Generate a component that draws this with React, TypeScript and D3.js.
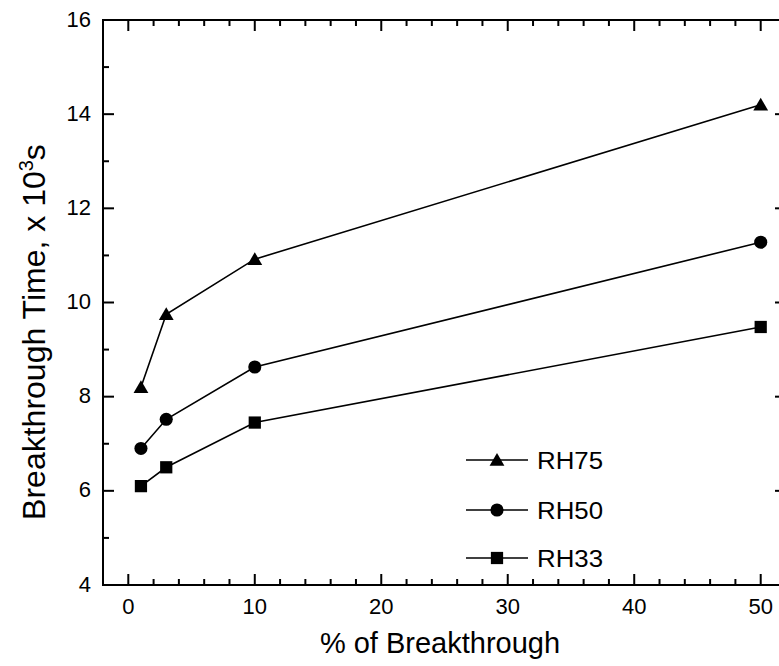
import React, { useEffect, useRef } from "react";
import * as d3 from "d3";

const xValues = [1, 3, 10, 50];
const rh75 = [8.2, 9.75, 10.92, 14.2];
const rh50 = [6.9, 7.52, 8.63, 11.28];
const rh33 = [6.1, 6.5, 7.45, 9.48];
const seriesNames = ["RH75", "RH50", "RH33"];
const seriesShapes = ["triangle", "circle", "square"];
const xTicks = [0, 10, 20, 30, 40, 50];
const yTicks = [4, 6, 8, 10, 12, 14, 16];

const W = 779;
const H = 666;
const FONT = "'Liberation Sans', Arial, sans-serif";

export default function App() {
  const ref = useRef<SVGSVGElement>(null);
  useEffect(() => {
    const svg = d3.select(ref.current);
    svg.selectAll("*").remove();
    const x = d3.scaleLinear().domain([-2, 52]).range([103, 786]);
    const y = d3.scaleLinear().domain([4, 16]).range([585, 20]);
    const g = svg.append("g");

    const [x0, x1] = x.range();
    const [y0, y1] = y.range();
    g.append("rect")
      .attr("x", x0).attr("y", y1)
      .attr("width", x1 - x0).attr("height", y0 - y1)
      .attr("fill", "none").attr("stroke", "#000").attr("stroke-width", 2);

    const major = 11, minor = 6;
    d3.range(0, 52, 2).forEach((v) => {
      const len = v % 10 === 0 ? major : minor;
      g.append("line").attr("x1", x(v)).attr("x2", x(v)).attr("y1", y0).attr("y2", y0 - len)
        .attr("stroke", "#000").attr("stroke-width", 2);
      g.append("line").attr("x1", x(v)).attr("x2", x(v)).attr("y1", y1).attr("y2", y1 + len)
        .attr("stroke", "#000").attr("stroke-width", 2);
    });
    d3.range(4, 17, 1).forEach((v) => {
      const len = v % 2 === 0 ? major : minor;
      g.append("line").attr("x1", x0).attr("x2", x0 + len).attr("y1", y(v)).attr("y2", y(v))
        .attr("stroke", "#000").attr("stroke-width", 2);
      g.append("line").attr("x1", x1).attr("x2", x1 - len).attr("y1", y(v)).attr("y2", y(v))
        .attr("stroke", "#000").attr("stroke-width", 2);
    });

    xTicks.forEach((v) => {
      g.append("text").attr("x", x(v)).attr("y", 614).attr("text-anchor", "middle")
        .attr("font-family", FONT).attr("font-size", 22).text(String(v));
    });
    yTicks.forEach((v) => {
      g.append("text").attr("x", 91).attr("y", y(v) + 6.5).attr("text-anchor", "end")
        .attr("font-family", FONT).attr("font-size", 22).text(String(v));
    });

    g.append("text").attr("x", 440).attr("y", 653).attr("text-anchor", "middle")
      .attr("font-family", FONT).attr("font-size", 29).text("% of Breakthrough");

    const yt = g.append("text").attr("transform", "translate(45,332) rotate(-90)")
      .attr("text-anchor", "middle").attr("font-family", FONT).attr("font-size", 32);
    yt.append("tspan").text("Breakthrough Time, x 10");
    yt.append("tspan").attr("font-size", 20).attr("dy", -12).text("3");
    yt.append("tspan").attr("dy", 12).text("s");

    const symbolFor = (s: string) =>
      s === "triangle" ? d3.symbol(d3.symbolTriangle, 95)
        : s === "circle" ? d3.symbol(d3.symbolCircle, 135)
        : d3.symbol(d3.symbolSquare, 150);

    const all = [rh75, rh50, rh33];
    const line = d3.line<number>().x((_, i) => x(xValues[i])).y((d) => y(d));
    all.forEach((vals, si) => {
      g.append("path").attr("d", line(vals) as string).attr("fill", "none")
        .attr("stroke", "#000").attr("stroke-width", 1.6);
      vals.forEach((v, i) => {
        const dy = seriesShapes[si] === "triangle" ? 1.5 : 0;
        g.append("path").attr("d", symbolFor(seriesShapes[si])() as string)
          .attr("transform", `translate(${x(xValues[i])},${y(v) + dy})`).attr("fill", "#000");
      });
    });

    const legendY = [460, 510, 558];
    seriesNames.forEach((name, i) => {
      const ly = legendY[i];
      g.append("line").attr("x1", 466).attr("x2", 528).attr("y1", ly).attr("y2", ly)
        .attr("stroke", "#000").attr("stroke-width", 1.4);
      const dy = seriesShapes[i] === "triangle" ? 1.5 : 0;
      g.append("path").attr("d", symbolFor(seriesShapes[i])() as string)
        .attr("transform", `translate(497,${ly + dy})`).attr("fill", "#000");
      g.append("text").attr("x", 537).attr("y", ly + 8.5).attr("font-family", FONT)
        .attr("font-size", 23).attr("textLength", 66).attr("lengthAdjust", "spacingAndGlyphs")
        .text(name);
    });
  }, []);

  return (
    <div style={{ position: "absolute", left: 0, top: 0 }}>
      <svg ref={ref} width={W} height={H} style={{ display: "block", background: "#fff" }} />
    </div>
  );
}
